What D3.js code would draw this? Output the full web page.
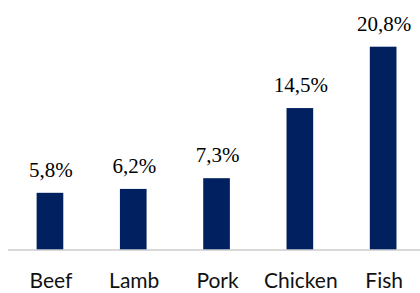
<!DOCTYPE html>
<html>
<head>
<meta charset="utf-8">
<script src="https://cdn.jsdelivr.net/npm/d3@7"></script>
<style>
  body { margin: 0; background: #fff; }
  .value { font-family: "Liberation Serif", "Times New Roman", serif; font-size: 21px; fill: #000; }
  .cat { font-family: Lato, "Open Sans", sans-serif; font-size: 21px; fill: #111; }
</style>
</head>
<body>
<div id="chart"></div>
<script>
var width = 420,
    height = 293,
    barColor = "#002060",
    axisColor = "#d9d9d9";

// the data
var categories = ["Beef", "Lamb", "Pork", "Chicken", "Fish"];
var values = [5.8, 6.2, 7.3, 14.5, 20.8];
var valueLabels = ["5,8%", "6,2%", "7,3%", "14,5%", "20,8%"];

var baseY = 249.3;

var svg = d3.select("#chart").append("svg")
  .attr("width", width)
  .attr("height", height);

var x = d3.scaleBand()
  .domain(categories)
  .range([8.3, 424.8])
  .paddingInner(0.68)
  .paddingOuter(0.34);

// 20.8 -> ~202.6px tall
var y = d3.scaleLinear()
  .domain([0, 20.8])
  .range([baseY, 46.7]);

// baseline
svg.append("line")
  .attr("x1", 8).attr("x2", width)
  .attr("y1", baseY + 0.7).attr("y2", baseY + 0.7)
  .attr("stroke", axisColor)
  .attr("stroke-width", 2);

svg.selectAll("rect.bar")
  .data(values)
  .enter()
  .append("rect")
  .attr("class", "bar")
  .attr("x", function(d, i) { return x(categories[i]); })
  .attr("y", function(d) { return y(d); })
  .attr("width", x.bandwidth())
  .attr("height", function(d) { return baseY - y(d); })
  .attr("fill", barColor);

svg.selectAll("text.value")
  .data(values)
  .enter()
  .append("text")
  .attr("class", "value")
  .attr("text-anchor", "middle")
  .attr("x", function(d, i) { return x(categories[i]) + x.bandwidth() / 2 + 1; })
  .attr("y", function(d) { return y(d) - 16; })
  .text(function(d, i) { return valueLabels[i]; });

svg.selectAll("text.cat")
  .data(categories)
  .enter()
  .append("text")
  .attr("class", "cat")
  .attr("text-anchor", "middle")
  .attr("x", function(d) { return x(d) + x.bandwidth() / 2 + 1; })
  .attr("y", 288.3)
  .text(function(d) { return d; });
</script>
</body>
</html>
